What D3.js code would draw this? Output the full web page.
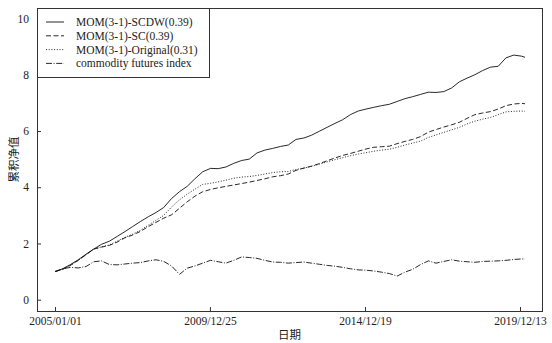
<!DOCTYPE html>
<html>
<head>
<meta charset="utf-8">
<script src="https://cdnjs.cloudflare.com/ajax/libs/d3/7.8.5/d3.min.js"></script>
<style>
  body { margin: 0; background: #fff; }
  text { font-family: "Liberation Serif", "Noto Sans CJK SC", serif; fill: #222; }
</style>
</head>
<body>
<div id="chart"></div>
<script>
// Data (quarterly samples, last point 2020/02/10)
var start_date      =   new Date(2005, 0, 1);
var end_date        =   new Date(2020, 1, 10);
var dates           =   d3.timeMonth.every(3).range(start_date, new Date(2020, 0, 2)).concat([end_date]);

var scdw            =   [1.00, 1.10, 1.25, 1.42, 1.62, 1.80, 1.97, 2.08, 2.25, 2.42,
                         2.60, 2.78, 2.95, 3.10, 3.28, 3.60, 3.84, 4.03, 4.30, 4.55,
                         4.67, 4.66, 4.72, 4.85, 4.95, 5.00, 5.22, 5.32, 5.38, 5.45,
                         5.50, 5.70, 5.75, 5.85, 5.99, 6.13, 6.27, 6.40, 6.58, 6.71,
                         6.78, 6.84, 6.90, 6.95, 7.05, 7.15, 7.22, 7.30, 7.38, 7.37,
                         7.40, 7.53, 7.75, 7.88, 8.00, 8.15, 8.27, 8.30, 8.60, 8.70,
                         8.66, 8.62];
var sc              =   [1.00, 1.08, 1.22, 1.40, 1.60, 1.80, 1.87, 1.93, 2.05, 2.20,
                         2.30, 2.43, 2.60, 2.75, 2.90, 3.02, 3.25, 3.48, 3.68, 3.84,
                         3.92, 3.98, 4.03, 4.08, 4.13, 4.18, 4.24, 4.30, 4.37, 4.41,
                         4.47, 4.60, 4.68, 4.75, 4.84, 4.94, 5.04, 5.13, 5.20, 5.28,
                         5.36, 5.42, 5.44, 5.46, 5.55, 5.63, 5.70, 5.80, 5.96, 6.05,
                         6.14, 6.22, 6.31, 6.45, 6.58, 6.64, 6.69, 6.78, 6.90, 6.96,
                         6.98, 6.97];
var original        =   [1.00, 1.08, 1.22, 1.40, 1.60, 1.80, 1.88, 1.95, 2.08, 2.22,
                         2.33, 2.47, 2.65, 2.82, 3.00, 3.30, 3.55, 3.75, 3.93, 4.10,
                         4.14, 4.19, 4.25, 4.32, 4.36, 4.38, 4.42, 4.47, 4.52, 4.55,
                         4.56, 4.63, 4.68, 4.74, 4.82, 4.90, 4.98, 5.05, 5.12, 5.18,
                         5.23, 5.28, 5.32, 5.35, 5.42, 5.50, 5.57, 5.64, 5.77, 5.86,
                         5.95, 6.04, 6.13, 6.25, 6.35, 6.42, 6.48, 6.58, 6.68, 6.70,
                         6.71, 6.70];
var commodity       =   [1.00, 1.10, 1.15, 1.13, 1.18, 1.35, 1.38, 1.25, 1.24, 1.27,
                         1.30, 1.32, 1.38, 1.42, 1.36, 1.20, 0.90, 1.12, 1.20, 1.30,
                         1.40, 1.35, 1.30, 1.40, 1.52, 1.50, 1.47, 1.40, 1.34, 1.33,
                         1.30, 1.32, 1.34, 1.30, 1.26, 1.22, 1.19, 1.15, 1.10, 1.06,
                         1.05, 1.02, 0.98, 0.93, 0.84, 0.98, 1.08, 1.25, 1.38, 1.30,
                         1.36, 1.42, 1.37, 1.35, 1.33, 1.36, 1.37, 1.38, 1.40, 1.43,
                         1.45, 1.45];

var series_names    =   ["MOM(3-1)-SCDW(0.39)", "MOM(3-1)-SC(0.39)",
                         "MOM(3-1)-Original(0.31)", "commodity futures index"];
var series_values   =   [scdw, sc, original, commodity];
var series_dash     =   [null, "5,2.5", "1,1.7", "6,1.6,1,1.6"];

var x_tick_dates    =   [new Date(2005, 0, 1), new Date(2009, 11, 25),
                         new Date(2014, 11, 19), new Date(2019, 11, 13)];
var y_ticks         =   [0, 2, 4, 6, 8, 10];

var chart_width     =   552;
var chart_height    =   343;
var box             =   { left: 37, right: 542, top: 8, bottom: 311 };
var time_format     =   d3.timeFormat("%Y/%m/%d");

// Scales
var x_scale         =   d3.scaleTime()
    .domain([x_tick_dates[0], x_tick_dates[3]])
    .range([55, 520]);
var y_scale         =   d3.scaleLinear()
    .domain([0, 10])
    .range([299.7, 18.5]);

// Create SVG
var svg             =   d3.select("#chart")
    .append("svg")
    .attr("width", chart_width)
    .attr("height", chart_height);

// Lines
var line            =   d3.line()
    .x(function(d, i) { return x_scale(dates[i]); })
    .y(function(d) { return y_scale(d); });

series_values.forEach(function(vals, k) {
    svg.append("path")
        .datum(vals)
        .attr("d", line)
        .attr("fill", "none")
        .attr("stroke", "#111")
        .attr("stroke-width", 0.9)
        .attr("stroke-dasharray", series_dash[k]);
});

// Axes
var x_axis          =   d3.axisBottom(x_scale)
    .tickValues(x_tick_dates)
    .tickFormat(time_format)
    .tickSizeInner(-4)
    .tickSizeOuter(0)
    .tickPadding(6);
var y_axis          =   d3.axisLeft(y_scale)
    .tickValues(y_ticks)
    .tickSizeInner(-4)
    .tickSizeOuter(0)
    .tickPadding(8);

var gx = svg.append("g")
    .attr("transform", "translate(0," + box.bottom + ")")
    .call(x_axis);
var gy = svg.append("g")
    .attr("transform", "translate(" + box.left + ",0)")
    .call(y_axis);

[gx, gy].forEach(function(g) {
    g.select(".domain").remove();
    g.selectAll("line").attr("stroke", "#333");
    g.selectAll("text")
        .attr("font-size", "11.5px")
        .attr("font-family", "Liberation Serif, serif")
        .attr("fill", "#222");
});

// Frame
svg.append("rect")
    .attr("x", box.left + 0.5)
    .attr("y", box.top + 0.5)
    .attr("width", box.right - box.left)
    .attr("height", box.bottom - box.top)
    .attr("fill", "none")
    .attr("stroke", "#333")
    .attr("stroke-width", 1);

// Axis titles
svg.append("text")
    .attr("x", (box.left + box.right) / 2)
    .attr("y", 339)
    .attr("text-anchor", "middle")
    .attr("font-size", "11.5px")
    .attr("font-family", "Noto Sans CJK SC, sans-serif")
    .text("日期");

svg.append("text")
    .attr("transform", "translate(14," + ((box.top + box.bottom) / 2) + ") rotate(-90)")
    .attr("text-anchor", "middle")
    .attr("dy", "0.35em")
    .attr("font-size", "11.5px")
    .attr("font-family", "Noto Sans CJK SC, sans-serif")
    .text("累积净值");

// Legend
var legend          =   svg.append("g");
legend.append("rect")
    .attr("x", box.left + 0.5)
    .attr("y", box.top + 0.5)
    .attr("width", 172)
    .attr("height", 69)
    .attr("fill", "#fff")
    .attr("stroke", "#333")
    .attr("stroke-width", 1);

series_names.forEach(function(name, k) {
    var yy = 22 + k * 13.8;
    legend.append("line")
        .attr("x1", 46).attr("x2", 64)
        .attr("y1", yy).attr("y2", yy)
        .attr("stroke", "#111")
        .attr("stroke-width", 0.9)
        .attr("stroke-dasharray", series_dash[k]);
    legend.append("text")
        .attr("x", 76)
        .attr("y", yy + 4)
        .attr("font-size", "11.5px")
        .text(name);
});
</script>
</body>
</html>
